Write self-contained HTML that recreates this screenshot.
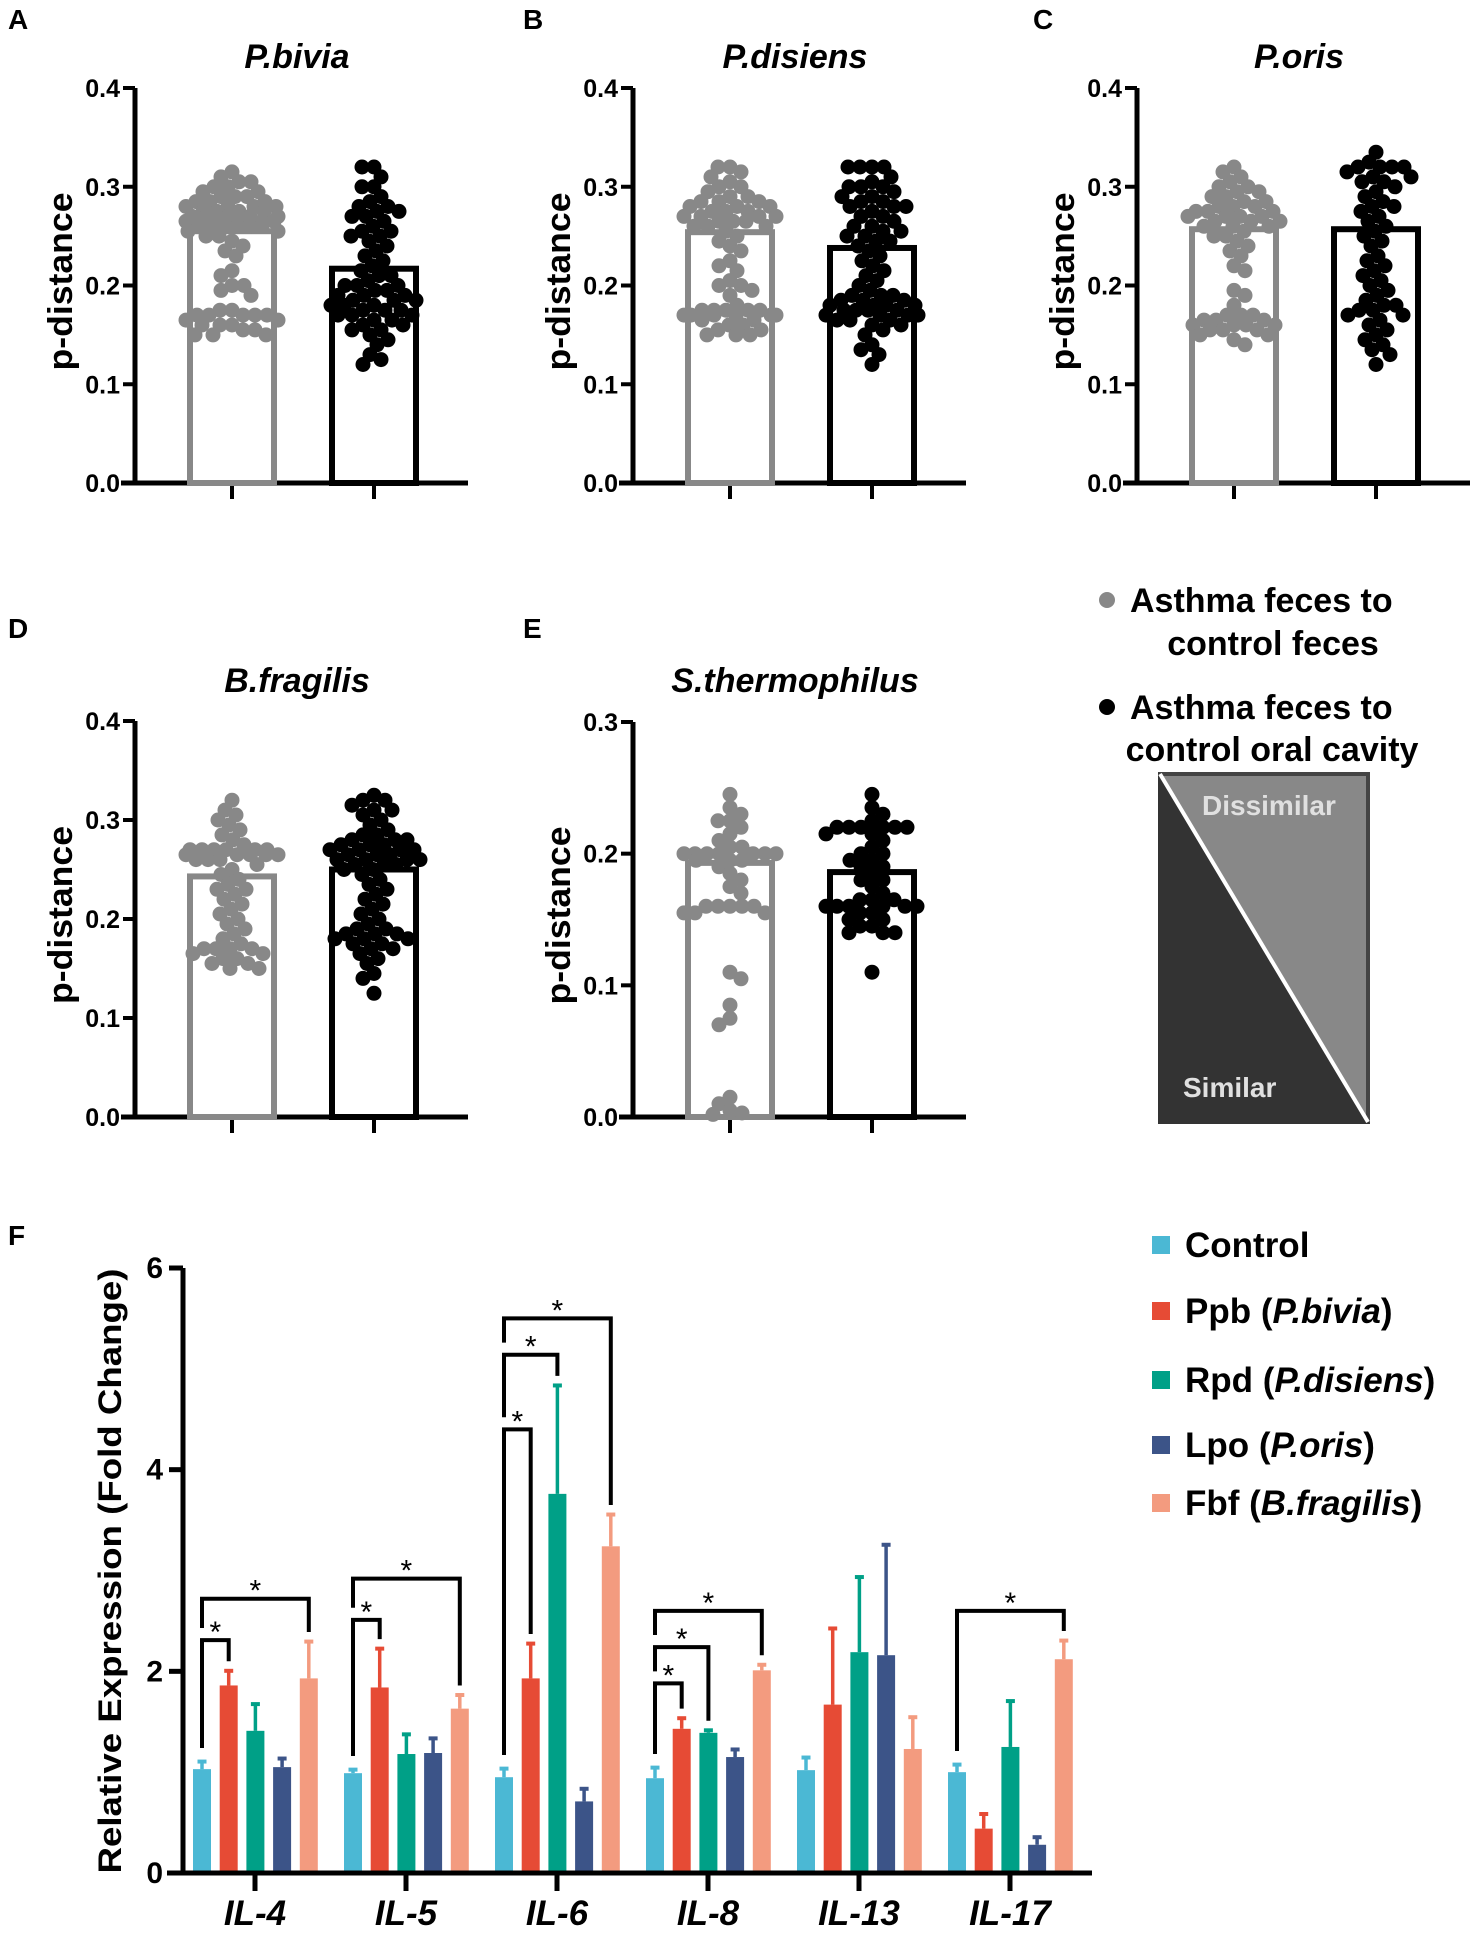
<!DOCTYPE html>
<html><head><meta charset="utf-8"><style>
html,body{margin:0;padding:0;background:#fff}
svg{display:block;font-family:"Liberation Sans",Arial,sans-serif;font-weight:bold}
</style></head><body>
<svg id="fig" width="1477" height="1934" viewBox="0 0 1477 1934" xmlns="http://www.w3.org/2000/svg">
<g font-size="28">
<text x="8" y="29">A</text>
<text x="523" y="29">B</text>
<text x="1033" y="29">C</text>
<text x="8" y="638">D</text>
<text x="523" y="638">E</text>
<text x="8" y="1245">F</text>
</g>
<g font-size="34">
<circle cx="1107" cy="600" r="8" fill="#888"/>
<text x="1130" y="612">Asthma feces to</text>
<text x="1273" y="655" text-anchor="middle">control feces</text>
<circle cx="1107" cy="707" r="8" fill="#000"/>
<text x="1130" y="719">Asthma feces to</text>
<text x="1272" y="761" text-anchor="middle">control oral cavity</text>
</g>
<g>
<rect x="1160" y="774" width="208" height="348" fill="#888" stroke="#444" stroke-width="4"/>
<polygon points="1158,772 1158,1124 1370,1124" fill="#333"/>
<line x1="1160" y1="774" x2="1368" y2="1122" stroke="#fff" stroke-width="4"/>
<text x="1202" y="815" font-size="28" fill="#e0e0e0">Dissimilar</text>
<text x="1183" y="1097" font-size="28" fill="#e0e0e0">Similar</text>
</g>
<g id="scatterPanels"></g>
<g id="barF"></g>
</svg>
<script>
// ---------- scatter panels data ----------
const panelTitles = ["P.bivia","P.disiens","P.oris","B.fragilis","S.thermophilus"];
const grayMeans = [0.255,0.254,0.257,0.243,0.193];
const blackMeans = [0.217,0.238,0.257,0.250,0.186];
const tickLabels4 = ["0.0","0.1","0.2","0.3","0.4"];
const tickLabels3 = ["0.0","0.1","0.2","0.3"];
const grayA = [0.315,0.31,0.305,0.305,0.30,0.30,0.295,0.295,0.29,0.29,0.29,0.285,0.285,0.285,0.28,0.28,0.28,0.28,0.275,0.275,0.275,0.275,0.27,0.27,0.27,0.27,0.27,0.265,0.265,0.265,0.265,0.265,0.26,0.26,0.26,0.26,0.26,0.26,0.255,0.255,0.25,0.25,0.245,0.24,0.235,0.23,0.215,0.21,0.2,0.2,0.195,0.19,0.175,0.175,0.17,0.17,0.17,0.17,0.17,0.165,0.165,0.16,0.16,0.16,0.155,0.155,0.15,0.15,0.15];
const blackA = [0.32,0.32,0.31,0.3,0.3,0.29,0.285,0.28,0.28,0.275,0.275,0.27,0.27,0.265,0.26,0.255,0.255,0.25,0.25,0.245,0.24,0.235,0.23,0.225,0.22,0.215,0.21,0.21,0.205,0.2,0.2,0.2,0.195,0.195,0.19,0.19,0.19,0.185,0.185,0.185,0.18,0.18,0.18,0.175,0.175,0.175,0.17,0.17,0.17,0.165,0.165,0.16,0.16,0.155,0.155,0.15,0.145,0.14,0.13,0.125,0.12];
const grayB = [0.32,0.32,0.315,0.31,0.305,0.30,0.30,0.295,0.29,0.29,0.285,0.285,0.285,0.28,0.28,0.28,0.275,0.275,0.275,0.27,0.27,0.27,0.27,0.265,0.265,0.265,0.26,0.26,0.26,0.255,0.25,0.245,0.24,0.235,0.225,0.22,0.215,0.205,0.2,0.2,0.195,0.19,0.18,0.175,0.175,0.175,0.175,0.175,0.17,0.17,0.17,0.17,0.17,0.17,0.165,0.165,0.16,0.16,0.155,0.155,0.15,0.15,0.15];
const blackB = [0.32,0.32,0.32,0.32,0.31,0.305,0.30,0.30,0.30,0.295,0.29,0.29,0.285,0.285,0.28,0.28,0.28,0.275,0.27,0.27,0.265,0.26,0.26,0.255,0.255,0.25,0.25,0.245,0.245,0.24,0.235,0.23,0.225,0.22,0.215,0.21,0.205,0.2,0.195,0.19,0.19,0.19,0.185,0.185,0.185,0.18,0.18,0.18,0.18,0.175,0.175,0.175,0.175,0.17,0.17,0.17,0.17,0.165,0.165,0.165,0.16,0.16,0.155,0.15,0.14,0.135,0.13,0.12];
const grayC = [0.32,0.315,0.31,0.305,0.30,0.30,0.295,0.295,0.29,0.29,0.285,0.285,0.28,0.28,0.28,0.275,0.275,0.275,0.27,0.27,0.27,0.27,0.265,0.265,0.265,0.26,0.26,0.26,0.255,0.25,0.25,0.245,0.24,0.235,0.23,0.22,0.215,0.195,0.19,0.18,0.17,0.17,0.17,0.165,0.165,0.165,0.16,0.16,0.16,0.16,0.155,0.155,0.155,0.15,0.15,0.145,0.14];
const blackC = [0.335,0.325,0.32,0.32,0.32,0.32,0.315,0.31,0.31,0.305,0.305,0.30,0.295,0.29,0.285,0.28,0.28,0.275,0.27,0.265,0.26,0.255,0.25,0.245,0.24,0.23,0.225,0.22,0.215,0.21,0.205,0.2,0.195,0.19,0.185,0.18,0.18,0.175,0.175,0.17,0.17,0.165,0.16,0.155,0.15,0.145,0.14,0.135,0.13,0.12];
const grayD = [0.32,0.31,0.305,0.30,0.295,0.29,0.285,0.28,0.275,0.27,0.27,0.27,0.27,0.27,0.27,0.265,0.265,0.265,0.265,0.265,0.26,0.26,0.26,0.255,0.25,0.245,0.24,0.235,0.23,0.23,0.225,0.22,0.215,0.21,0.205,0.2,0.195,0.19,0.185,0.18,0.175,0.17,0.17,0.17,0.17,0.165,0.165,0.16,0.16,0.155,0.155,0.15,0.15];
const blackD = [0.325,0.32,0.32,0.315,0.31,0.31,0.305,0.30,0.295,0.29,0.285,0.285,0.28,0.28,0.28,0.275,0.275,0.275,0.27,0.27,0.27,0.27,0.265,0.265,0.265,0.26,0.26,0.26,0.26,0.255,0.255,0.255,0.25,0.25,0.245,0.24,0.235,0.23,0.225,0.22,0.215,0.21,0.205,0.2,0.195,0.19,0.19,0.185,0.185,0.185,0.18,0.18,0.18,0.175,0.175,0.17,0.17,0.165,0.16,0.155,0.145,0.14,0.125];
const grayE = [0.245,0.235,0.23,0.225,0.225,0.22,0.215,0.21,0.205,0.205,0.2,0.2,0.2,0.2,0.2,0.2,0.2,0.195,0.195,0.195,0.19,0.185,0.18,0.175,0.17,0.16,0.16,0.16,0.16,0.16,0.155,0.155,0.155,0.11,0.105,0.085,0.075,0.07,0.015,0.01,0.005,0.003,0.002];
const blackE = [0.245,0.235,0.23,0.225,0.22,0.22,0.22,0.22,0.22,0.22,0.215,0.215,0.21,0.205,0.2,0.2,0.195,0.195,0.19,0.19,0.185,0.18,0.18,0.175,0.17,0.165,0.165,0.165,0.16,0.16,0.16,0.16,0.16,0.16,0.155,0.155,0.15,0.15,0.145,0.145,0.14,0.14,0.14,0.11];

// ---------- panel F data ----------
const genes = ["IL-4","IL-5","IL-6","IL-8","IL-13","IL-17"];
const seriesNames = ["Control","Ppb","Rpd","Lpo","Fbf"];
const seriesSpecies = ["","P.bivia","P.disiens","P.oris","B.fragilis"];
const controlVals = [1.03,0.99,0.95,0.94,1.02,1.00];
const controlErr  = [1.12,1.04,1.05,1.06,1.16,1.09];
const ppbVals = [1.86,1.84,1.93,1.43,1.67,0.44];
const ppbErr  = [2.02,2.24,2.29,1.55,2.44,0.60];
const rpdVals = [1.41,1.18,3.76,1.39,2.19,1.25];
const rpdErr  = [1.69,1.39,4.85,1.43,2.95,1.72];
const lpoVals = [1.05,1.19,0.71,1.15,2.16,0.28];
const lpoErr  = [1.15,1.35,0.85,1.24,3.27,0.37];
const fbfVals = [1.93,1.63,3.24,2.01,1.23,2.12];
const fbfErr  = [2.31,1.78,3.57,2.08,1.56,2.32];
const fTicks = ["0","2","4","6"];
const brGene   = [0,0,1,1,2,2,2,3,3,3,5];
const brTarget = [1,4,1,4,1,2,4,1,2,4,4];
const brY      = [2.31,2.72,2.51,2.92,4.40,5.14,5.50,1.88,2.24,2.60,2.60];

const NS = "http://www.w3.org/2000/svg";
function mk(tag, attrs, parent){
  const e = document.createElementNS(NS, tag);
  for (const k in attrs) e.setAttribute(k, attrs[k]);
  parent.appendChild(e);
  return e;
}

const grays = [grayA,grayB,grayC,grayD,grayE];
const blacks = [blackA,blackB,blackC,blackD,blackE];
const axX = [135,633,1137,135,633];
const rowY0 = [483,483,483,1117,1117];
const rowYTop = [88,88,88,721,722];
const yMax = [0.4,0.4,0.4,0.4,0.3];
const titleY = [68,68,68,692,692];

const sp = document.getElementById('scatterPanels');
function swarm(vals, cx, ys, r, g, color, name){
  const sorted = vals.slice().sort((a,b)=>b-a);
  const placed = [];
  const minD = 2*r*0.8;
  const maxDx = 46;
  sorted.forEach((v,idx)=>{
    const y = ys(v);
    let x = null;
    for (let d=0; d<=maxDx && x===null; d+=1){
      for (const s of (idx%2?[-1,1]:[1,-1])){
        const tx = cx + s*d;
        if (placed.every(p=>Math.hypot(p[0]-tx,p[1]-y)>=minD)){ x=tx; break; }
      }
    }
    if (x===null){
      let best=cx, bestScore=Infinity;
      for (let d=-maxDx; d<=maxDx; d+=2){
        const tx=cx+d;
        let sc=0; placed.forEach(p=>{const dd=Math.hypot(p[0]-tx,p[1]-y); if(dd<minD) sc+=minD-dd;});
        if(sc<bestScore){bestScore=sc;best=tx;}
      }
      x=best;
    }
    placed.push([x,y]);
    const c = mk('circle',{cx:x.toFixed(1),cy:y.toFixed(1),r:r,fill:color},g);
    
    
  });
}

for (let p=0;p<5;p++){
  const g = mk('g',{},sp);
  
  
  const x0 = axX[p], y0 = rowY0[p], yt = rowYTop[p], ym = yMax[p];
  const ys = v => y0 - (v/ym)*(y0-yt);
  const labels = ym===0.4 ? tickLabels4 : tickLabels3;
  const t = mk('text',{x:x0+162,y:titleY[p],'font-size':34,'font-style':'italic','text-anchor':'middle'},g);
  t.textContent = panelTitles[p];
  
  
  const cy = (y0+yt)/2 - 4;
  const yl = mk('text',{x:0,y:0,'font-size':34,'text-anchor':'middle',textLength:178,lengthAdjust:'spacingAndGlyphs',transform:`translate(${x0-63},${cy}) rotate(-90)`},g);
  yl.textContent = 'p-distance';
  
  
  mk('line',{x1:x0,y1:yt,x2:x0,y2:y0+2.5,stroke:'#000','stroke-width':5},g);
  mk('line',{x1:x0-14,y1:y0,x2:x0+333,y2:y0,stroke:'#000','stroke-width':5},g);
  labels.forEach((lb,i)=>{
    const v = i*0.1, y = ys(v);
    mk('line',{x1:x0-12,y1:y,x2:x0,y2:y,stroke:'#000','stroke-width':4},g);
    const tl = mk('text',{x:x0-15,y:y+9,'font-size':25,'text-anchor':'end'},g);
    tl.textContent = lb;
    
    
  });
  const gc = x0+97, bc = x0+239;
  [gc,bc].forEach(cx=> mk('line',{x1:cx,y1:y0,x2:cx,y2:y0+16,stroke:'#000','stroke-width':4},g));
  const gb = mk('rect',{x:gc-42,y:ys(grayMeans[p]),width:84,height:y0-ys(grayMeans[p]),fill:'none',stroke:'#888','stroke-width':6},g);
  
  
  const bb = mk('rect',{x:bc-42,y:ys(blackMeans[p]),width:84,height:y0-ys(blackMeans[p]),fill:'none',stroke:'#000','stroke-width':6},g);
  
  
  swarm(grays[p], gc, ys, 7.5, g, '#888', 'dot-feces');
  swarm(blacks[p], bc, ys, 7.5, g, '#000', 'dot-oral');
}

// ---------- panel F ----------
const fg = document.getElementById('barF');
const colors = ['#4bb8d4','#e64b35','#00a087','#3c5488','#f39b7f'];
const vals = [controlVals,ppbVals,rpdVals,lpoVals,fbfVals];
const errs = [controlErr,ppbErr,rpdErr,lpoErr,fbfErr];
const FX = 183, FY0 = 1873, FYT = 1268, FMAX = 6;
const fy = v => FY0 - (v/FMAX)*(FY0-FYT);
const gx = i => 255 + i*151;
const bx = (i,s) => gx(i) - 62 + s*26.7;
const BW = 18;

genes.forEach((gname,i)=>{
  for (let s=0;s<5;s++){
    const x = bx(i,s), top = fy(vals[s][i]), et = fy(errs[s][i]);
    const r = mk('rect',{x:x,y:top,width:BW,height:FY0-top,fill:colors[s]},fg);
    
    
    mk('line',{x1:x+BW/2,y1:top,x2:x+BW/2,y2:et,stroke:colors[s],'stroke-width':3.5},fg);
    mk('line',{x1:x+BW/2-4.5,y1:et+1.5,x2:x+BW/2+4.5,y2:et+1.5,stroke:colors[s],'stroke-width':4},fg);
  }
});
mk('line',{x1:FX,y1:FYT,x2:FX,y2:FY0+2.5,stroke:'#000','stroke-width':5},fg);
mk('line',{x1:167,y1:FY0,x2:1092,y2:FY0,stroke:'#000','stroke-width':5},fg);
fTicks.forEach(lb=>{
  const y = fy(parseFloat(lb));
  mk('line',{x1:FX-14,y1:y,x2:FX,y2:y,stroke:'#000','stroke-width':5},fg);
  const t = mk('text',{x:FX-20,y:y+10,'font-size':30,'text-anchor':'end'},fg);
  t.textContent = lb;
  
  
});
genes.forEach((gname,i)=>{
  mk('line',{x1:gx(i),y1:FY0,x2:gx(i),y2:FY0+18,stroke:'#000','stroke-width':5},fg);
  const t = mk('text',{x:gx(i),y:1925,'font-size':35,'font-style':'italic','text-anchor':'middle'},fg);
  t.textContent = gname;
  
  
});
const fyl = mk('text',{x:0,y:0,'font-size':32,'text-anchor':'middle',textLength:605,lengthAdjust:'spacingAndGlyphs',transform:`translate(121,1571) rotate(-90)`},fg);
fyl.textContent = 'Relative Expression (Fold Change)';


const prevTop = {};
brGene.forEach((gi,k)=>{
  const s = brTarget[k], yv = brY[k];
  const x1 = bx(gi,0)+BW/2, x2 = bx(gi,s)+BW/2;
  const base = prevTop[gi]!==undefined ? prevTop[gi] : controlErr[gi];
  const leftBot = fy(base + 0.12), rightBot = fy(errs[s][gi] + 0.08), yy = fy(yv);
  const pl = mk('polyline',{points:`${x1},${leftBot} ${x1},${yy} ${x2},${yy} ${x2},${rightBot}`,fill:'none',stroke:'#000','stroke-width':4},fg);
  
  
  const st = mk('text',{x:(x1+x2)/2,y:yy+2,'font-size':30,'font-weight':'normal','text-anchor':'middle'},fg);
  st.textContent = '*';
  
  
  prevTop[gi] = yv;
});
seriesNames.forEach((n,s)=>{
  const y = [1245,1311,1380,1445,1503][s];
  const g = mk('g',{},fg);
  
  
  mk('rect',{x:1152,y:y-9,width:18,height:18,fill:colors[s]},g);
  const t = mk('text',{x:1185,y:y+12,'font-size':35},g);
  if (seriesSpecies[s]){
    t.appendChild(document.createTextNode(n+' ('));
    const it = mk('tspan',{'font-style':'italic'},t);
    it.textContent = seriesSpecies[s];
    t.appendChild(document.createTextNode(')'));
  } else t.textContent = n;
});
</script>
</body></html>
